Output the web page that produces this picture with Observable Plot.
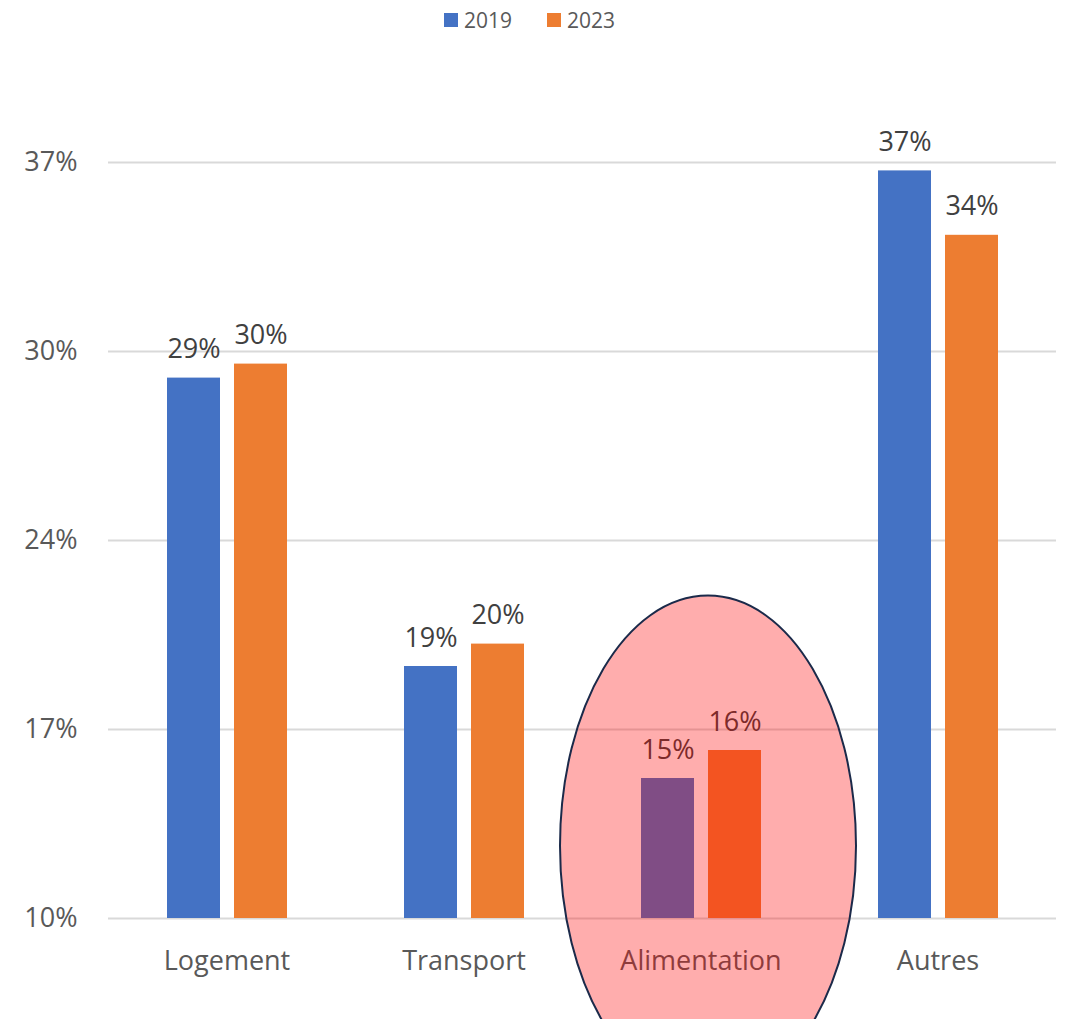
<!DOCTYPE html>
<html>
<head>
<meta charset="utf-8">
<script src="https://cdn.jsdelivr.net/npm/d3@7"></script>
<script src="https://cdn.jsdelivr.net/npm/@observablehq/plot@0.6"></script>
<style>
  html, body { margin: 0; padding: 0; background: #fff; }
  #legend { height: 40px; display: flex; justify-content: center; align-items: center; gap: 35px;
    font-family: 'Open Sans', sans-serif; font-size: 21px; color: #595959; padding-right: 10px; }
  #legend .item { display: flex; align-items: center; gap: 6px; }
  #legend .sw { width: 14px; height: 14px; display: inline-block; }
</style>
</head>
<body>
<div id="legend"></div>
<div id="chart"></div>
<script>
const categories = ["Logement", "Transport", "Alimentation", "Autres"];
const years = ["2019", "2023"];
const values2019 = [29.3, 19.0, 15.0, 36.7];
const values2023 = [29.8, 19.8, 16.0, 34.4];
const yTicks = [10, 16.75, 23.5, 30.25, 37];
const yTickLabels = ["10%", "17%", "24%", "30%", "37%"];
const colors = ["#4472C4", "#ED7D31"];
const highlight = "Alimentation";

const data = [];
categories.forEach((c, i) => {
  data.push({category: c, year: years[0], value: values2019[i]});
  data.push({category: c, year: years[1], value: values2023[i]});
});

// legend
const legend = document.getElementById("legend");
years.forEach((y, i) => {
  const item = document.createElement("div");
  item.className = "item";
  const sw = document.createElement("span");
  sw.className = "sw";
  sw.style.background = colors[i];
  const t = document.createElement("span");
  t.textContent = y;
  item.append(sw, t);
  legend.append(item);
});

// ellipse symbol (aspect ratio ry/rx)
const ellipseSymbol = {
  draw(ctx, size) {
    const rx = Math.sqrt(size / Math.PI);
    const ry = rx * 1.69;
    const k = 0.5522847498;
    ctx.moveTo(rx, 0);
    ctx.bezierCurveTo(rx, ry * k, rx * k, ry, 0, ry);
    ctx.bezierCurveTo(-rx * k, ry, -rx, ry * k, -rx, 0);
    ctx.bezierCurveTo(-rx, -ry * k, -rx * k, -ry, 0, -ry);
    ctx.bezierCurveTo(rx * k, -ry, rx, -ry * k, rx, 0);
    ctx.closePath();
  }
};

const chart = Plot.plot({
  width: 1069,
  height: 979,
  marginLeft: 108,
  marginRight: 13,
  marginTop: 122,
  marginBottom: 101,
  style: {fontSize: "27px", fontFamily: "'Open Sans', sans-serif", background: "#fff"},
  fx: {domain: categories, padding: 0, axis: null, label: null},
  x: {domain: years, paddingInner: 0.209, paddingOuter: 0.873, axis: null, label: null},
  y: {domain: [10, 37], axis: null, label: null},
  color: {domain: years, range: colors},
  marks: [
    Plot.gridY(yTicks, {stroke: "#d9d9d9", strokeOpacity: 1, strokeWidth: 2}),
    Plot.barY(data, {fx: "category", x: "year", y1: 10, y2: "value", fill: "year"}),
    Plot.text(data, {fx: "category", x: "year", y: "value", text: d => Math.round(d.value) + "%",
      lineAnchor: "bottom", dy: -20, fill: "#404040"}),
    Plot.axisY({ticks: yTicks, tickFormat: d => yTickLabels[yTicks.indexOf(d)], tickSize: 0, tickPadding: 31,
      color: "#595959", label: null}),
    Plot.axisFx({anchor: "bottom", tickSize: 0, tickPadding: 32, color: "#595959", label: null}),
    Plot.dot([highlight], {fx: d => d, y: 12.6, dx: 7, r: 148, symbol: ellipseSymbol,
      fill: "#ff0000", fillOpacity: 0.32, stroke: "#1b2a4a", strokeWidth: 2})
  ]
});
document.getElementById("chart").append(chart);
</script>
</body>
</html>
